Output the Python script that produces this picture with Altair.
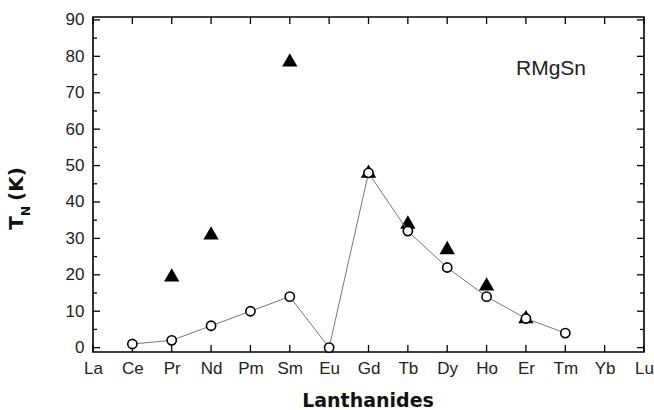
import altair as alt
import pandas as pd

elements = ["La", "Ce", "Pr", "Nd", "Pm", "Sm", "Eu", "Gd", "Tb", "Dy", "Ho", "Er", "Tm", "Yb", "Lu"]
circle_elems = ["Ce", "Pr", "Nd", "Pm", "Sm", "Eu", "Gd", "Tb", "Dy", "Ho", "Er", "Tm"]
circle_vals = [1, 2, 6, 10, 14, 0, 48, 32, 22, 14, 8, 4]
tri_elems = ["Pr", "Nd", "Sm", "Gd", "Tb", "Dy", "Ho", "Er"]
tri_vals = [20, 31.5, 79, 48.5, 34.5, 27.5, 17.5, 8.5]
y_major = [0, 10, 20, 30, 40, 50, 60, 70, 80, 90]
y_minor = [5, 15, 25, 35, 45, 55, 65, 75, 85]

W, H = 551, 335
FONT = "Liberation Sans"

circ = pd.DataFrame({"el": circle_elems, "v": circle_vals,
                     "i": [elements.index(e) for e in circle_elems]})
tri = pd.DataFrame({"el": tri_elems, "v": tri_vals})
els = pd.DataFrame({"el": elements})
ymaj = pd.DataFrame({"v": y_major})
ymin = pd.DataFrame({"v": y_minor})

xs = alt.Scale(domain=elements, type="point", padding=0)
ys = alt.Scale(domain=[-1.2, 90.8], nice=False, zero=False)

xax = alt.Axis(labelAngle=0, ticks=False, domain=False, grid=False, title=None,
               labelFont=FONT, labelFontSize=17, labelColor="#222", labelPadding=8)
yax = alt.Axis(values=y_major, ticks=False, domain=False, grid=False, title=None,
               labelFont=FONT, labelFontSize=17, labelColor="#222", labelPadding=9)

X = alt.X("el:O", scale=xs, axis=xax)
Y = alt.Y("v:Q", scale=ys, axis=yax)

triangles = alt.Chart(tri).mark_point(shape="triangle-up", filled=True, color="black",
                                      size=235, opacity=1).encode(x=X, y=Y)
line = alt.Chart(circ).mark_line(color="#777", strokeWidth=1).encode(
    x=X, y=Y, order=alt.Order("i:Q"))
circles = alt.Chart(circ).mark_point(shape="circle", filled=True, fill="white",
                                     stroke="black", strokeWidth=1.6, size=85,
                                     opacity=1).encode(x=X, y=Y)

tick_style = dict(color="black", strokeWidth=1.3)
xb = alt.Chart(els).mark_rule(**tick_style).encode(x=X, y=alt.value(H), y2=alt.value(H - 7))
xt = alt.Chart(els).mark_rule(**tick_style).encode(x=X, y=alt.value(0), y2=alt.value(7))
yl = alt.Chart(ymaj).mark_rule(**tick_style).encode(y=Y, x=alt.value(0), x2=alt.value(7))
yr = alt.Chart(ymaj).mark_rule(**tick_style).encode(y=Y, x=alt.value(W), x2=alt.value(W - 7))
yl2 = alt.Chart(ymin).mark_rule(**tick_style).encode(y=Y, x=alt.value(0), x2=alt.value(4))
yr2 = alt.Chart(ymin).mark_rule(**tick_style).encode(y=Y, x=alt.value(W), x2=alt.value(W - 4))

label = alt.Chart(pd.DataFrame({"t": ["RMgSn"]})).mark_text(
    font=FONT, fontSize=21, color="#222", align="center", baseline="alphabetic"
).encode(text="t:N", x=alt.value(458), y=alt.value(58))

xtitle = alt.Chart(pd.DataFrame({"t": ["Lanthanides"]})).mark_text(
    font="DejaVu Sans", fontWeight="bold", fontSize=19, color="#111", align="center",
    baseline="alphabetic"
).encode(text="t:N", x=alt.value(275), y=alt.value(390))

ttl_T = alt.Chart(pd.DataFrame({"t": ["T"]})).mark_text(
    font="DejaVu Sans", fontWeight="bold", fontSize=20, color="#111", angle=270,
    align="center", baseline="middle"
).encode(text="t:N", x=alt.value(-76), y=alt.value(206))
ttl_N = alt.Chart(pd.DataFrame({"t": ["N"]})).mark_text(
    font="DejaVu Sans", fontWeight="bold", fontSize=12, color="#111", angle=270,
    align="center", baseline="middle"
).encode(text="t:N", x=alt.value(-67), y=alt.value(194))
ttl_K = alt.Chart(pd.DataFrame({"t": ["(K)"]})).mark_text(
    font="DejaVu Sans", fontWeight="bold", fontSize=20, color="#111", angle=270,
    align="center", baseline="middle"
).encode(text="t:N", x=alt.value(-76), y=alt.value(167))

chart = alt.layer(
    xb, xt, yl, yr, yl2, yr2, triangles, line, circles, label, xtitle, ttl_T, ttl_N, ttl_K
).properties(
    width=W, height=H,
    autosize=alt.AutoSizeParams(type="none"),
    padding={"left": 93, "top": 17, "right": 10, "bottom": 58},
    background="white",
).configure_view(stroke="black", strokeWidth=1.6)

chart.save("out.html", embed_options={"renderer": "svg", "actions": False})
